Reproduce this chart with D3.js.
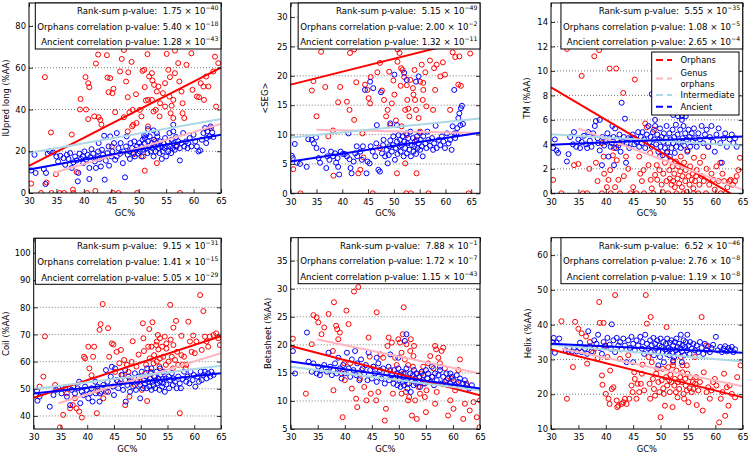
<!DOCTYPE html>
<html><head><meta charset="utf-8">
<script src="https://cdn.jsdelivr.net/npm/d3@7"></script>
<style>body{margin:0;background:#fff} svg{display:block} text{font-family:"DejaVu Sans",sans-serif;fill:#000}</style>
</head><body><svg id="c" width="751" height="455"></svg>
<script>
// ---------------- DATA ----------------
const gcTicks = [30,35,40,45,50,55,60,65];
const yLabels = ["IUpred long (%AA)", "<SEG>", "TM (%AA)", "Coil (%AA)", "Betasheet (%AA)", "Helix (%AA)"];
const xLabel = "GC%";
const yTicks1 = [0,20,40,60,80];
const yTicks2 = [0,5,10,15,20,25,30];
const yTicks3 = [0,2,4,6,8,10,12,14];
const yTicks4 = [40,50,60,70,80,90,100];
const yTicks5 = [5,10,15,20,25,30,35];
const yTicks6 = [10,20,30,40,50,60];
const legendLabels = ["Orphans", "Genus\norphans", "Intermediate", "Ancient"];

const rankMant = ["1.75","5.15","5.55","9.15","7.88","6.52"];
const rankExp  = ["-40","-49","-35","-31","-1","-46"];
const orphMant = ["5.40","2.00","1.08","1.41","1.72","2.76"];
const orphExp  = ["-18","-2","-5","-15","-7","-8"];
const ancMant  = ["1.28","1.32","2.65","5.05","1.15","1.19"];
const ancExp   = ["-43","-11","-4","-29","-43","-8"];

// regression fits: value at GC=30 and at GC=65
const fitOrph  = [[13.0,60.0],[18.5,26.2],[8.65,-0.6],[46.7,69.4],[19.8,11.0],[32.9,19.1]];
const fitInter = [[19.1,35.5],[9.5,12.6],[4.83,3.88],[49.9,58.5],[16.1,11.9],[34.2,29.4]];
const fitAnc   = [[11.2,27.9],[5.4,10.1],[3.96,4.64],[48.3,55.7],[17.05,12.2],[34.5,31.9]];
// genus orphans: start GC, value at start, value at GC=65
const fitGenus = [[34.4,9.6,33.1],[35,10.8,10.3],[35,5.3,0.3],[34.6,44.7,63.1],[34.8,21,14.9],[32,33.1,22.3]];

// scatter data [GC%, value]
const orph1 = [[32.9,55.5],[34,29],[30.4,4.5],[32.2,0],[34.1,0],[33.2,5],[34.9,9],[36.4,0],[38,1.6],[37.8,28],[38.7,10],[39.4,45],[39.3,40],[40.4,40],[40.3,55.5],[40.8,52.6],[41,50.7],[40.8,35.4],[41.9,36.7],[42.2,62],[42.6,66.3],[42.7,36.3],[43,35],[43.2,32.7],[44.3,55.3],[44.8,55],[44.2,66],[45.4,49.9],[45.2,47.8],[44.5,48.3],[45.7,38.7],[45.1,22.3],[46.3,0],[46.9,64.2],[46.6,58.2],[47.3,68.5],[47.7,53.4],[48,45.9],[48.1,57.8],[48.7,62.8],[48.3,38.6],[47.3,36.3],[48.9,39.8],[48,29.5],[48.8,31.9],[49,32.7],[49.6,33.5],[49.5,47.3],[49.1,18.6],[49.7,0],[50.7,58.5],[51,59],[50.5,36.7],[51.1,50.7],[51.3,44.3],[51.7,44.6],[51.6,66.5],[51.9,55.8],[52.4,57.4],[52.5,53.9],[52.8,51.8],[53.3,48.6],[53.6,51],[53.1,39.8],[53.8,36.7],[53,24.7],[53.3,14.3],[51.1,10.7],[54.8,52.6],[55.1,66.6],[55.4,59],[55.7,55.5],[55.6,46.2],[56,41.8],[56.3,44.6],[55.8,38.2],[56.3,35.9],[56.6,57.4],[56.6,68.2],[57.2,62.2],[57.4,53.4],[57.8,48.6],[58,43],[56.8,22.3],[57.5,0],[58.7,61.4],[59.6,66.9],[59.8,49.4],[60.6,46.2],[61,45.9],[61.3,52.6],[61.8,51],[61.9,44.6],[62.7,51],[62.3,55.8],[63.6,58.2],[63.9,65.3],[64.5,62.2],[64.1,41.4],[63.2,31.1],[58,38.2],[58.3,35.9],[52.7,39],[52.4,44.6],[53.9,43],[54.4,47.8],[54.8,41.4],[51.7,31.9],[50.2,39.8],[50.8,17.5],[35.6,0],[38.1,0],[40.6,0],[42.1,1],[45.3,0]];
const anc1 = [[30.4,10.8],[31.2,9.6],[31,18.3],[32.7,11.5],[33.1,9.6],[33,4.3],[33.4,18.8],[33.8,19.9],[34.4,19.4],[35,17.5],[35.3,15.1],[35.7,17.8],[36.3,16.7],[36.6,13.5],[36.9,18.3],[37.2,16.3],[37.5,19.1],[37.8,12],[38.1,14.7],[38.4,17.5],[38.7,15.6],[38.9,5.6],[39,9.6],[39.2,18.8],[39.5,16.3],[39.8,17.5],[39.9,14.3],[40.1,19.9],[40.4,15.9],[40.7,18.3],[41,12],[41,6.7],[41.2,17.2],[41.4,21],[41.7,18.8],[42,15.1],[42.2,12],[42.5,17.2],[42.6,19.9],[42.9,16.3],[43.1,12.7],[43.3,20.7],[43.5,18.3],[43.8,6.4],[44,15.5],[44.3,19.1],[44.5,22.3],[44.6,13.1],[45,17.5],[45.2,19.9],[45.5,23.9],[45.7,15.9],[46,17.5],[46.3,21.5],[46.6,18.8],[46.7,23.9],[47.1,14.3],[47.2,19.9],[47.5,7.5],[47.7,22.3],[48,18.3],[48.3,19.9],[48.4,16.3],[48.5,23.9],[48.8,21.5],[49,19.1],[49.2,24.7],[49.3,17.5],[49.5,20.7],[49.7,22.3],[49.9,18.8],[50.1,23.9],[50.2,19.9],[50.4,22.3],[50.5,17.5],[50.7,25.5],[50.8,20.7],[51,27.4],[51.1,26.3],[51.1,23.9],[51.3,21.5],[51.4,27.9],[51.6,19.1],[51.7,24.7],[51.9,22.3],[52,27.1],[52.2,19.9],[52.4,23.9],[52.5,21.5],[52.7,17.5],[52.8,25.5],[53,22.3],[53.1,19.9],[53.3,23.9],[53.4,27.1],[53.6,21.5],[53.8,19.1],[53.9,24.7],[54.1,22.3],[54.2,16.3],[54.4,19.9],[54.5,23.9],[54.7,21.5],[54.8,26.3],[55,17.5],[55.1,22.3],[55.3,24.7],[55.4,19.9],[55.6,28.7],[55.7,22.3],[55.9,19.1],[56,25.5],[56.2,21.5],[56.3,29.5],[56.4,23.9],[56.6,20.7],[56.8,26.8],[56.9,22.3],[57.2,24.7],[57.5,15.6],[57.5,21.5],[57.8,23.9],[58.1,28.7],[58.3,22.3],[58.6,24.7],[58.9,21.5],[59,23.9],[59.3,26.3],[59.6,22.3],[60,27.9],[60.3,24.7],[60.6,22.3],[60.9,19.9],[61.2,20.4],[61.5,25.5],[61.8,28.7],[62.1,31.1],[62.3,23.9],[62.5,29.5],[62.9,27.1],[63.1,31.9],[63.4,29],[63.6,26.8],[62.4,26.3],[52.7,30],[51.7,30.6],[56.3,32.7],[53.3,28.7],[47.8,27.1],[46,28.7],[44.8,27.1],[43.7,27.4],[42.7,23.9]];

const orph2 = [[30.5,4.1],[31.9,0],[35,13.1],[35.9,24.1],[34.1,17.5],[34.4,19.1],[36.7,18.1],[37.3,9.7],[38.2,10.7],[38.3,3],[39.2,15.5],[39.6,18.1],[40.9,15.6],[41.4,14.2],[41.5,23.9],[42.3,24.5],[42.3,12.5],[42.7,18.9],[43.5,4],[43.9,10.2],[44.1,6.1],[43.1,3.4],[44.4,18.5],[44.9,17.6],[45.1,16.2],[45.4,15.3],[45.5,19.8],[45.9,0],[46.8,20.6],[47.3,22.2],[47.7,17.5],[48.1,15.9],[48.5,13.1],[48.8,14.2],[49.1,20.7],[49.3,11.6],[49.6,15.3],[49.9,19.2],[50.1,16.8],[50.4,12.4],[50.7,24.5],[51.1,23.9],[51.4,21.3],[51.5,11.4],[51.7,21],[52,19.8],[52.2,5.1],[52.4,0],[52.5,18.4],[52.6,15.9],[52.8,14.4],[53,13.1],[53.3,0],[53.7,17.9],[53.8,16.8],[54,21],[54.1,15.9],[54.3,14.2],[54.4,3.4],[54.8,12.8],[55.1,19],[55.4,21.9],[55.6,15.9],[55.7,17.6],[56.1,20.6],[56.3,14.8],[56.7,0],[57,22.6],[57.6,14.2],[57.8,21.3],[58,17.6],[58.3,21.9],[59,19.9],[59.5,22.3],[60.9,14.2],[61.4,24],[61.9,23.2],[62.5,18.5],[62.7,23.3],[63,18.3],[64.5,0],[64.8,23.8],[50.7,22.4],[55.7,18.8],[53.2,19.3],[52.5,9.9],[51.3,18.3],[54.4,9.1],[47.3,7.7],[50.6,3.4],[59.9,20.2],[52.2,14.2],[55.1,10.5]];
const anc2 = [[30.2,6.4],[30.4,6],[30.8,8.4],[31.2,5.2],[31.8,5],[33.1,4.5],[33.4,9.2],[34.1,9.1],[34.5,8.5],[34.9,9.5],[35,7.7],[35.4,6],[35.7,5.2],[36.2,7.3],[36.9,4.3],[37.1,6.3],[37.5,5.7],[37.8,7.1],[38.2,6.3],[38.6,6.8],[38.8,5.2],[39.1,6],[39.2,4.5],[39.4,3.2],[39.7,7.1],[40.1,6.7],[40.5,6.7],[40.9,6.3],[41.2,10.2],[41.4,5.8],[41.6,4.3],[41.8,3.4],[42.2,5.4],[42.5,6.8],[42.8,8],[42.9,6.3],[43.5,7.1],[43.8,5.7],[44,8],[44.4,17.6],[44.7,3.4],[44.9,5.4],[45.3,5.1],[45.4,19],[45.5,8],[45.9,7.1],[46,17.9],[46.4,6.3],[46.6,8.5],[47,4],[47.3,3.7],[47.5,17.2],[47.7,6.8],[47.9,8.2],[48,9.1],[48.3,6.3],[48.6,7.4],[48.8,5.1],[49,6.5],[49.1,8],[49.3,9],[49.6,7.1],[49.8,8.2],[49.9,9.7],[50.1,20.2],[50.2,5.7],[50.4,7.7],[50.6,8.8],[50.7,6.7],[50.9,9.9],[51.1,8],[51.2,9.1],[51.3,7.1],[51.5,8.2],[51.7,9.7],[51.9,6.3],[52,8.8],[52.2,7.7],[52.4,10.2],[52.5,6.8],[52.6,8.5],[52.8,9.4],[53,7.4],[53.2,10.5],[53.3,6.3],[53.5,8.2],[53.7,9.4],[53.8,7.1],[54,8],[54.1,8.8],[54.3,6.7],[54.5,9.7],[54.6,7.7],[54.8,8.5],[55,10.3],[55.1,7.4],[55.2,9.1],[55.4,8],[55.6,6.3],[55.7,9.7],[56.1,8.5],[56.3,7.7],[56.5,10.5],[56.7,9.1],[57,8.1],[57.4,9.4],[57.6,7.4],[57.8,8.5],[58.1,11.5],[58.3,7.7],[58.7,9.1],[59,8.2],[59.3,9.7],[59.6,8.8],[59.9,7.7],[60.3,10.2],[60.6,8.5],[60.9,9.1],[61.2,7.4],[61.4,11.4],[61.7,17.6],[61.9,9.4],[62.1,10.2],[62.3,11.1],[62.5,12.8],[62.7,13.6],[63,14.5],[63.2,14.9],[62.9,11.6],[63.4,11.8],[61.7,10.2],[52,20.5],[52.5,19.3],[54.3,19],[54.8,19.9],[50.6,11.6],[49.3,11.9],[46.7,11.6]];

const orph3 = [[30.4,1.1],[31.9,0],[32.9,11.8],[34.2,2.3],[35,2.4],[35.6,9.6],[35.8,0],[36.6,0],[37,2],[37.9,11.2],[38.2,2.5],[38.5,1],[38.8,11.7],[39.3,4.1],[39.3,0],[39.6,3],[39.7,1.6],[40.2,0.5],[40.5,1.1],[40.7,10.2],[40.8,1.9],[40.9,0],[41.3,3.1],[41.5,3.7],[41.7,0.5],[41.9,10.2],[42,2.7],[42.3,1.1],[42.5,4.1],[42.6,0],[43.2,8.2],[43.3,1.4],[43.7,3],[44.1,2],[44.5,0],[45,0.5],[45.3,9.3],[45.6,0],[46.1,3],[46.3,1.6],[46.6,1],[46.9,1.9],[47,0],[47.2,5.7],[47.5,5.4],[47.8,2.3],[48.1,3.3],[48.2,1.1],[48.4,0.4],[48.7,0],[48.8,5.2],[49,1.5],[49.3,2.3],[49.4,1.1],[49.8,1.9],[49.9,3],[50.2,0.7],[50.4,0.1],[50.5,1.6],[50.8,2.5],[51.1,1],[51.2,3.3],[51.4,0],[51.6,1.9],[51.7,1.2],[51.8,2.7],[52,0.7],[52.2,2.2],[52.3,1],[52.5,1.6],[52.6,0.5],[52.8,2.6],[52.9,0],[53.1,1.2],[53.2,2.2],[53.4,0.8],[53.6,1.8],[53.7,3],[53.9,0.5],[54,1.4],[54.2,0],[54.3,2.5],[54.5,1],[54.6,1.9],[54.8,0.1],[54.9,3.5],[55.1,1.4],[55.3,0.7],[55.4,2.2],[55.7,1.1],[55.9,1.6],[56,0.4],[56.1,2.9],[56.3,1],[56.5,1.4],[56.6,1.9],[56.9,0],[57.1,0.7],[57.2,2.5],[57.5,1.4],[57.8,3],[57.9,1],[58.3,0],[58.4,2],[58.7,3.8],[58.9,0.7],[59.3,1.6],[59.6,1.1],[59.9,0.3],[60.2,2.2],[60.6,1],[60.9,2.5],[61,0],[61.3,1.6],[61.6,1],[61.9,0],[62.2,0.5],[62.6,1],[62.8,1.1],[63.2,0.7],[63.6,1],[63.9,1.4],[64.2,1.9],[64.5,2.9],[56,0]];
const anc3 = [[30.4,3.7],[30.7,4.4],[31,3.5],[31.3,3.3],[32.9,2.6],[33.2,3.2],[33.5,4.6],[34,4],[34.2,5],[34.6,3.8],[35,4.4],[35.3,3.7],[35.6,4.2],[36,4.7],[36.4,4],[36.6,3.7],[36.8,5],[37.1,4.3],[37.4,3.8],[37.7,4.9],[38,5.5],[38.2,5.9],[38.5,4.5],[38.6,4.1],[38.9,3.5],[39.3,2.3],[39.4,4.6],[39.7,3.9],[40,4.2],[40.3,4.9],[40.5,3],[40.7,4.5],[40.9,3.8],[41.1,4.1],[41.4,4.6],[41.5,2.3],[41.7,5.3],[41.9,3.7],[42.1,4.4],[42.3,3.9],[42.5,4.8],[42.7,3.4],[42.9,7.4],[43.1,4.2],[43.3,4.6],[43.5,6.1],[43.7,2.5],[43.8,4.1],[44.1,4.5],[44.3,3.7],[44.5,4.4],[44.9,4.8],[45.2,4],[45.3,4.5],[45.6,4.2],[45.9,5],[46.1,3.8],[46.4,4.6],[46.6,4.1],[46.7,5],[47,4.4],[47.2,3.7],[47.5,4.8],[47.8,5.5],[48,4.2],[48.2,4.6],[48.4,3.8],[48.6,5],[48.8,4.4],[49,5.5],[49.2,4],[49.4,4.8],[49.6,3.4],[49.8,4.4],[49.9,5.3],[50,3.8],[50.2,4.6],[50.4,3.1],[50.5,4.2],[50.6,4.9],[50.8,3.7],[51,4.5],[51.1,5.5],[51.2,3.4],[51.4,4.1],[51.6,4.9],[51.7,3],[51.8,4.4],[52,3.7],[52.2,5.2],[52.3,4.1],[52.5,4.6],[52.6,3.3],[52.8,5.6],[52.9,3.8],[53.1,4.8],[53.2,6.3],[53.4,4.2],[53.6,5.2],[53.7,3.7],[53.9,6],[54,4.5],[54.2,5.5],[54.3,3.9],[54.5,4.9],[54.6,6.3],[54.8,4.4],[54.9,3.4],[55.1,5.2],[55.3,4.6],[55.4,3.8],[55.7,4.9],[55.9,4.2],[56.1,5.3],[56.3,4.5],[56.6,3.8],[56.9,4.9],[57.2,4.4],[57.5,5.5],[57.8,4.1],[58.1,4.8],[58.4,5.2],[58.7,3.8],[59,4.6],[59.3,5.5],[59.6,4.2],[59.9,3.4],[60.2,4.8],[60.6,5.3],[60.9,4.1],[61.2,2.5],[61.5,4.5],[61.8,4.9],[62.1,3.8],[62.6,4.4],[63,4.8],[63.3,4.1],[63.6,4.5],[63.9,3.8],[53.6,8.2],[48.4,8.1],[38.9,6],[41.2,5.5],[49,6],[52.3,6.4],[53.9,6.3],[54.8,6.6]];

const orph4 = [[32.1,69.3],[31.8,54.5],[31.1,50.8],[34,51.4],[34.9,35.8],[35.5,40.4],[36.2,48.3],[36.8,42.8],[37.3,44],[37.7,46.5],[38,42.8],[38.5,41.6],[39,39.4],[39.4,61.8],[39.6,61.2],[40.2,65.5],[41.3,65.5],[40.4,57.5],[40.8,55],[41.1,61.8],[41.8,41],[41.9,49.2],[42.3,71.7],[42.5,73.8],[42.9,81.2],[43,46.5],[43.5,48.9],[43.9,72.3],[44.1,61.8],[44.6,66.7],[44.9,66.3],[45.2,56.2],[45.5,63.6],[45.7,52.6],[46,59.4],[46.3,64.3],[46.6,55.1],[46.9,60.6],[47.1,44],[47.4,58.8],[47.7,56.2],[47.9,47.1],[48.1,53.8],[48.3,59.9],[48.5,67.5],[48.9,51.4],[49.2,58.2],[49.6,62.6],[49.9,52.6],[50.2,49.6],[50.4,74.1],[50.5,68.6],[50.6,63.9],[50.8,55.6],[51,58.9],[51.2,45.5],[51.4,65.5],[51.6,72],[51.7,61.2],[51.9,56.2],[52,65.5],[52.2,74.5],[52.4,59.4],[52.5,62.4],[52.7,54.5],[52.9,66.1],[53,60],[53.2,69.8],[53.3,64.5],[53.5,58.2],[53.6,61.2],[54,65.5],[54.1,56.2],[54.2,61.8],[54.5,69.2],[54.7,58.8],[54.8,64.8],[55.2,60],[55.5,80.9],[55.6,68.1],[55.8,61.8],[56,57.5],[56.1,66.1],[56.4,60.6],[56.6,75],[56.8,63.6],[57,58.8],[57.3,41],[57.6,69.5],[57.8,58.8],[58.1,61.8],[58.4,57.5],[58.9,74.7],[59.2,67.4],[59.5,63.6],[59.8,69.6],[60.1,63.1],[60.4,67.4],[61.1,84.5],[61.4,64.3],[61.7,78.6],[62,69.2],[62.3,67.4],[62.6,65.5],[62.9,69.2],[63.6,69.8],[64.1,70.4],[64.5,68.6],[64.8,66.1],[58.5,58.8],[57.6,62.4],[54.8,66.7],[53.6,68.6],[53,67.4],[56.1,72.5]];
const anc4 = [[30.6,49.3],[30.7,45.6],[31.1,47.1],[33,43.4],[33.7,47.7],[34.2,49.6],[34.6,50.2],[35.2,48.3],[35.9,50.2],[36.2,47.1],[36.8,44],[37.1,49.6],[37.4,50.8],[37.7,48.3],[38.2,50.2],[38.5,52.6],[38.7,44.7],[39,48.9],[39.3,47.7],[39.6,50.8],[39.9,49.6],[40.2,46.5],[40.5,48.3],[40.8,50.2],[41,45.3],[41.5,52.6],[41.6,48.3],[41.9,50.8],[42.3,45.3],[42.7,48.9],[43,51.4],[43.5,56.9],[43.8,52.6],[43.9,48.9],[44.4,54.5],[44.8,50.8],[45,47.7],[45.2,57.5],[45.5,53.2],[45.8,50.2],[46.1,52],[46.4,55.1],[46.7,49.6],[47.1,53.2],[47.2,45.3],[47.5,51.4],[47.7,54.5],[48,48.9],[48.3,52.6],[48.6,50.8],[48.9,55.7],[49.1,49.6],[49.4,52.6],[49.6,54.5],[49.9,51.4],[50.2,56.3],[50.4,50.2],[50.6,53.2],[50.8,52],[51,54.5],[51.1,50.2],[51.2,57.5],[51.4,52.6],[51.6,50.8],[51.7,53.8],[51.9,55.7],[52,49.6],[52.2,52.6],[52.4,51.4],[52.5,54.5],[52.7,50.2],[52.9,53.2],[53,56.3],[53.1,52],[53.3,53.8],[53.5,49.6],[53.6,52.6],[53.7,55.1],[54,50.8],[54.1,53.6],[54.2,52],[54.4,56.3],[54.5,48.9],[54.7,53.8],[54.8,51.6],[55.2,54.5],[55.3,50.2],[55.5,53.2],[55.8,55.7],[56,51.4],[56.1,53.8],[56.4,52.6],[56.7,50.2],[57,54.5],[57.3,52],[57.5,50.2],[57.8,53.6],[58.1,56.3],[58.5,52.6],[58.7,54.5],[59.1,52],[59.3,56.3],[59.7,53.2],[59.9,55.1],[60.2,50.8],[60.6,54.5],[60.9,52.6],[61.2,56.3],[61.4,53.2],[61.7,55.1],[62,56.3],[62.3,53.8],[62.6,55.7],[63,54.5],[63.2,56.3],[63.6,55.1],[49.9,46.5],[52,57.5],[53.6,57.5],[47.1,56.9],[44.6,58.1],[42.4,48.3]];

const orph5 = [[30.4,21.1],[32.8,11.3],[34.2,25.3],[34.8,24.9],[35.1,24],[33.9,20.1],[35.7,21.9],[36.2,23.1],[37,25.5],[37.8,18.9],[37.9,11.9],[38,27.6],[38.4,23.4],[38.6,22.8],[38.8,21],[39.1,22.2],[39.4,14.9],[39.6,7.1],[39.9,16.7],[40,13.7],[40.3,26.1],[40.7,23.7],[41,16.7],[41.3,12.2],[41.7,29.5],[42.1,10.4],[42.3,8.9],[42.5,30.3],[42.8,14],[43.1,15.5],[43.6,12.5],[44,10.1],[44.4,21.3],[44.6,17.9],[44.8,11.3],[45.3,16.1],[45.8,10.1],[45.9,25.8],[46.2,11.6],[46.6,18.3],[47.1,17.7],[47.4,6.5],[47.6,8.6],[47.9,19.8],[48.1,21.3],[48.4,15.5],[48.7,20.4],[48.9,11.3],[49,14],[49.3,17.7],[49.6,16.4],[49.9,21],[50.2,20.4],[50.5,18.6],[50.7,21.9],[50.8,14.9],[50.9,26.7],[51.1,17.4],[51.3,11.6],[51.4,20.1],[51.6,13.1],[51.7,10.1],[51.9,10.7],[52.1,18.9],[52.2,21],[52.4,7.4],[52.6,16.1],[52.7,18],[52.8,19.8],[53,10.1],[53.2,14.9],[53.3,6.8],[53.6,12.5],[53.9,11.3],[54.2,14.9],[54.5,13.1],[54.8,10.7],[55,8],[55.1,11.9],[55.4,16.7],[55.8,18],[56.1,14.3],[56.4,15.8],[56.7,9.5],[56.9,19.2],[57,11.6],[57.3,17.7],[57.6,16.7],[57.9,18.9],[58.2,19.5],[58.5,15.8],[58.8,13.7],[59.1,7.4],[59.5,10.1],[59.8,14],[60.1,8.6],[60.4,11.9],[60.7,13.1],[61,15.5],[61.3,17.4],[61.9,6.8],[62.2,9.5],[62.5,13.1],[63.1,8.3],[63.8,9.8],[64.4,7.1],[64.9,5.3],[65,10.1],[56.7,19.8],[54.5,16.1],[51.7,16.4],[50.5,11.3]];
const anc5 = [[30.4,18.9],[30.8,14.9],[33,22.2],[33.3,17],[33.9,15.2],[34.2,16.7],[34.8,14.9],[35.1,16.1],[35.4,14.6],[35.7,15.5],[36.2,16.4],[36.7,15.2],[37,18.6],[37.3,16.1],[37.6,14.6],[37.9,15.5],[38.2,16.7],[38.5,14.9],[38.8,17.7],[39.1,15.8],[39.4,14],[39.7,16.4],[40,14.9],[40.4,18.6],[40.7,15.8],[41,14.3],[41.3,17.4],[41.6,15.5],[41.9,18.9],[42.1,14.6],[42.3,16.7],[42.7,13.7],[43,17.4],[43.3,15.8],[43.6,14.9],[43.9,16.4],[44.2,13.7],[44.4,18.6],[44.7,15.5],[45,14],[45.3,16.1],[45.6,14.9],[45.9,13.4],[46.2,16.7],[46.5,15.5],[46.8,14],[47.1,15.8],[47.4,13.1],[47.7,14.9],[48.1,16.1],[48.2,13.7],[48.4,18.3],[48.7,14.6],[49,13.1],[49.1,15.5],[49.3,14],[49.6,14.9],[49.7,12.8],[49.9,15.8],[50.1,13.7],[50.2,14.6],[50.3,12.5],[50.5,15.2],[50.7,13.4],[50.8,14.3],[50.9,12.8],[51.1,14.9],[51.3,13.7],[51.4,15.8],[51.6,12.2],[51.7,14],[51.9,13.1],[52.1,14.9],[52.2,11.6],[52.4,13.7],[52.6,14.6],[52.7,12.8],[52.8,15.5],[53,14],[53.2,13.1],[53.3,14.9],[53.6,13.4],[53.8,14.3],[53.9,12.5],[54.2,15.2],[54.4,13.7],[54.5,14.6],[54.8,13.1],[55,15.5],[55.3,14],[55.4,14.9],[55.8,13.4],[56.1,16.1],[56.2,14.3],[56.5,12.8],[56.7,14.9],[57,13.7],[57.3,14.6],[57.6,15.5],[57.9,13.1],[58.2,14.3],[58.5,13.4],[58.8,14.9],[59.1,14],[59.5,13.1],[59.8,14.3],[60.1,13.7],[60.4,12.8],[60.7,14.6],[61,13.4],[61.3,14],[61.9,13.1],[62.2,13.7],[62.5,12.8],[63,12.2],[63.5,12.8],[51.4,21.9],[51.1,20.7],[49.9,17.7],[57.6,16.1],[59.5,14.9],[45.9,17.7]];

const orph6 = [[30.4,34.8],[31.9,41],[32.9,18.7],[34,27.8],[34.4,40.8],[35,38.8],[35.2,33.3],[35.6,37.5],[36.4,36.6],[36.6,28.8],[37.1,35],[37.7,32.1],[38,33.1],[38.5,30.2],[38.8,46.5],[38.9,40.5],[39.3,25.4],[39.4,22.7],[39.6,40.5],[39.9,34],[40,20.1],[40.3,30.7],[40.5,18.7],[40.7,17.2],[40.8,26.8],[41.1,21.5],[41.4,22],[41.7,48.5],[42,18.2],[42.1,16.3],[42.3,16.7],[42.6,30.2],[42.9,17.2],[43.2,17.7],[43.5,18.7],[43.8,17.2],[44.1,31.2],[44.3,18.7],[44.7,22.5],[44.9,20.6],[45.2,26.3],[45.3,24.4],[45.6,18.7],[45.8,23],[46.1,20.6],[46.4,23],[46.6,25.9],[46.7,28.5],[47,21.1],[47.3,48.5],[47.5,40.3],[47.8,30.7],[48,23],[48.1,18.7],[48.2,42.2],[48.4,29.2],[48.6,24.4],[48.8,21.5],[49,19.6],[49.2,25.9],[49.4,27.3],[49.6,23.5],[49.8,20.6],[50,13.4],[50.2,24],[50.4,27.3],[50.5,21.7],[50.6,20.1],[50.8,16.7],[51,24.9],[51.1,39.3],[51.2,22.5],[51.4,27.8],[51.6,24],[51.7,20.6],[51.8,25.6],[52,23.5],[52.2,16.3],[52.3,29.2],[52.5,22.5],[52.6,24.4],[52.8,20.6],[52.9,26.8],[53.1,19.1],[53.2,23.5],[53.4,21.5],[53.6,24.9],[53.7,30.7],[53.9,23.5],[54,26.3],[54.2,20.1],[54.3,18.7],[54.5,24.4],[54.6,22.5],[54.8,21.1],[54.9,25.9],[55.1,17.7],[55.3,21.7],[55.4,24.9],[55.7,20.6],[55.9,23.5],[56,21.5],[56.3,23],[56.5,24.9],[56.6,16.9],[56.9,21.1],[57.2,23.5],[57.5,42.2],[57.7,15.3],[57.9,26.3],[58.3,34],[58.4,20.6],[58.7,22],[59,18.7],[59.3,21.1],[59.6,23.5],[59.9,24.4],[60.2,22.5],[60.7,11.9],[61,18.7],[61.3,20.6],[61.6,25.9],[61.8,13.8],[62.1,22],[62.4,16.7],[62.6,22.5],[63,20.1],[63.6,19.1],[64,24.9],[64.6,28.3],[56.3,30.7],[54.8,28.3],[52.3,28.3],[54,28.3]];
const anc6 = [[30.3,34.8],[30.5,36.2],[31,34.8],[31.5,36],[30.7,31.9],[32.7,32.6],[33.2,32.1],[33.8,32.3],[34.2,33.1],[34.7,32.3],[35.3,34.8],[35.6,32.1],[36.2,33.1],[36.6,31.6],[36.8,38.1],[37.1,33.8],[37.4,32.3],[37.9,35.5],[38.3,34.5],[38.6,37.1],[38.9,33.3],[39.3,31.6],[39.6,35],[39.9,33.8],[40.3,36.2],[40.7,34.2],[40.9,33.1],[41.1,40.1],[41.4,35.5],[41.7,32.1],[42,36.2],[42.3,34],[42.6,35],[42.9,32.9],[43.2,36],[43.5,34],[43.8,29.2],[44.1,35.5],[44.4,33.3],[44.7,36.5],[45,34.5],[45.3,32.6],[45.6,35.5],[45.9,34],[46.3,36.5],[46.6,33.1],[46.7,35],[47,31.6],[47.2,37.1],[47.5,34.5],[47.8,33.1],[48.1,35.5],[48.2,32.1],[48.4,34],[48.7,36.2],[48.8,31.2],[49,34.5],[49.2,33.1],[49.4,35.5],[49.6,32.3],[49.8,34],[49.9,30.7],[50,36],[50.2,33.6],[50.4,32.1],[50.5,35],[50.6,29.2],[50.8,32.9],[51,34.5],[51.1,31.6],[51.2,36],[51.4,33.3],[51.6,31.2],[51.7,34.8],[51.8,32.9],[52,35.5],[52.2,32.1],[52.3,34],[52.5,30.7],[52.6,35],[52.8,32.6],[52.9,36],[53.1,33.6],[53.2,31.6],[53.4,34.5],[53.6,33.1],[53.7,37.1],[53.9,32.3],[54,34],[54.2,35.5],[54.3,31.2],[54.5,33.6],[54.6,35],[54.8,32.6],[54.9,37.1],[55.1,34],[55.3,31.6],[55.4,35],[55.7,33.1],[56,34.5],[56.3,32.6],[56.6,34],[56.9,32.1],[57.2,35],[57.5,33.3],[57.8,31.6],[58.1,34.5],[58.4,32.6],[58.7,33.8],[59,32.1],[59.3,33.3],[59.6,34.2],[60.1,36.5],[60.4,32.6],[60.9,33.6],[61.2,32.1],[61.5,33.1],[61.8,33.8],[62.1,32.3],[62.4,33.3],[62.7,32.6],[63,33.6],[63.3,32.1],[63.6,32.9],[45,29.2],[49.6,28.3],[52.3,29.7],[53.9,29.2]];

// ---------------- RENDER ----------------
const orphans = [orph1,orph2,orph3,orph4,orph5,orph6];
const ancient = [anc1,anc2,anc3,anc4,anc5,anc6];
const yTicks = [yTicks1,yTicks2,yTicks3,yTicks4,yTicks5,yTicks6];
const pvals = [0,1,2,3,4,5].map(i=>[
  ["Rank-sum p-value:  ", rankMant[i], rankExp[i]],
  ["Orphans correlation p-value: ", orphMant[i], orphExp[i]],
  ["Ancient correlation p-value: ", ancMant[i], ancExp[i]]]);

const layout = [
  {l:29,   r:221,   t:3,     b:193,   xmax:65,   ymin:0,    ymax:91,    lx:6},
  {l:290.7,r:480,   t:3,     b:193.3, xmax:66.7, ymin:0,    ymax:32.4,  lx:265},
  {l:551,  r:742.7, t:3,     b:193.3, xmax:65,   ymin:0,    ymax:15.55, lx:527},
  {l:33.7, r:221,   t:238.3, b:429,   xmax:65,   ymin:35.2, ymax:105.4, lx:6},
  {l:290.7,r:480,   t:237.7, b:429,   xmax:65,   ymin:5,    ymax:39.1,  lx:268},
  {l:551,  r:742.7, t:237.7, b:429,   xmax:65,   ymin:10,   ymax:65,    lx:528}
];
const RED="#ff0000", BLUE="#0000ff", PINK="#ffb6c1", LBLUE="#add8e6";
const FS = 8.4;
const svg = d3.select("#c");
const defs = svg.append("defs");

layout.forEach((L,i)=>{
  const x = d3.scaleLinear().domain([30, L.xmax]).range([L.l, L.r]);
  const y = d3.scaleLinear().domain([L.ymin, L.ymax]).range([L.b, L.t]);
  const g = svg.append("g");
  defs.append("clipPath").attr("id","clip"+i).append("rect")
    .attr("x",L.l).attr("y",L.t).attr("width",L.r-L.l).attr("height",L.b-L.t);
  const inner = g.append("g").attr("clip-path",`url(#clip${i})`);
  // grid
  inner.selectAll(".grid").data(yTicks[i].filter(v=>v>L.ymin && v<L.ymax)).join("line")
    .attr("x1",L.l).attr("x2",L.r).attr("y1",d=>y(d)).attr("y2",d=>y(d))
    .attr("stroke","#444").attr("stroke-width",0.7).attr("stroke-dasharray","1,2");
  // scatter
  inner.append("g").selectAll("circle").data(orphans[i]).join("circle")
    .attr("cx",d=>x(d[0])).attr("cy",d=>y(d[1])).attr("r",2.5)
    .attr("fill","none").attr("stroke",RED).attr("stroke-width",1);
  inner.append("g").selectAll("circle").data(ancient[i]).join("circle")
    .attr("cx",d=>x(d[0])).attr("cy",d=>y(d[1])).attr("r",2.5)
    .attr("fill","none").attr("stroke",BLUE).attr("stroke-width",1);
  // regression lines
  const lin = (x0,y0,x1,y1)=>{const s=(y1-y0)/(x1-x0); return [[x0,y0],[L.xmax, y0+s*(L.xmax-x0)]];};
  const lines = [
    {pts: lin(30,fitOrph[i][0],65,fitOrph[i][1]), c:RED},
    {pts: lin(fitGenus[i][0],fitGenus[i][1],65,fitGenus[i][2]), c:PINK},
    {pts: lin(30,fitInter[i][0],65,fitInter[i][1]), c:LBLUE},
    {pts: lin(30,fitAnc[i][0],65,fitAnc[i][1]), c:BLUE}
  ];
  const lg = d3.line().x(d=>x(d[0])).y(d=>y(d[1]));
  inner.selectAll(".rl").data(lines).join("path")
    .attr("d",d=>lg(d.pts)).attr("stroke",d=>d.c).attr("stroke-width",2).attr("fill","none");
  // frame
  g.append("rect").attr("x",L.l).attr("y",L.t).attr("width",L.r-L.l).attr("height",L.b-L.t)
    .attr("fill","none").attr("stroke","#000").attr("stroke-width",1);
  // axes
  const ax = (gen, tx, ty, labels)=>{
    const a = g.append("g").attr("transform",`translate(${tx},${ty})`).call(gen);
    a.select(".domain").remove();
    a.selectAll("line").attr("stroke","#000").attr("stroke-width",0.8);
    a.selectAll("text").style("font-size",FS+"px").style("font-family","DejaVu Sans");
    if(!labels) a.selectAll("text").remove();
    return a;
  };
  ax(d3.axisBottom(x).tickValues(gcTicks).tickSize(-4).tickPadding(5.5).tickFormat(d3.format("d")),0,L.b,true);
  ax(d3.axisTop(x).tickValues(gcTicks).tickSize(-4),0,L.t,false);
  ax(d3.axisLeft(y).tickValues(yTicks[i]).tickSize(-4).tickPadding(3).tickFormat(d3.format("d")),L.l,0,true);
  ax(d3.axisRight(y).tickValues(yTicks[i]).tickSize(-4),L.r,0,false);
  // labels
  g.append("text").attr("x",(L.l+L.r)/2).attr("y",L.b+22.5).attr("text-anchor","middle")
    .style("font-size",FS+"px").text(xLabel);
  g.append("text").attr("transform",`translate(${L.lx},${(L.t+L.b)/2}) rotate(-90)`)
    .attr("text-anchor","middle").attr("dominant-baseline","central")
    .style("font-size",FS+"px").text(yLabels[i]);
  // p-value box
  const box = g.append("g");
  const rect = box.append("rect");
  let maxW = 0;
  pvals[i].forEach((r,k)=>{
    const t = box.append("text").attr("x",L.r-2.5).attr("y",L.t+10.8+k*15.8)
      .attr("text-anchor","end").style("font-size","8.6px").style("white-space","pre");
    t.append("tspan").text(r[0]+r[1]+" \u00d7 10");
    t.append("tspan").attr("dy",-4).style("font-size","6.2px").text(r[2].replace("-","\u2212"));
    maxW = Math.max(maxW, t.node().getComputedTextLength());
  });
  rect.attr("x",L.r-2.5-maxW-2).attr("y",L.t).attr("width",maxW+4.5).attr("height",46)
    .attr("fill","#fff").attr("stroke","#000").attr("stroke-width",1);
});

// legend (third panel)
const leg = svg.append("g");
leg.append("rect").attr("x",651.7).attr("y",52).attr("width",87.3).attr("height",63)
  .attr("fill","#fff").attr("stroke","#000").attr("stroke-width",1);
const legColors = [RED,PINK,LBLUE,BLUE];
const legY = [60,78.5,95,106.7];
legendLabels.forEach((lab,k)=>{
  leg.append("line").attr("x1",656).attr("x2",672).attr("y1",legY[k]).attr("y2",legY[k])
    .attr("stroke",legColors[k]).attr("stroke-width",2).attr("stroke-dasharray","7,4");
  const parts = lab.split("\n");
  const t = leg.append("text").attr("x",680.5).attr("y",legY[k]-(parts.length-1)*5.4)
    .attr("dominant-baseline","central").style("font-size",FS+"px");
  parts.forEach((p,j)=>t.append("tspan").attr("x",680.5).attr("dy",j?10.8:0).text(p));
});
</script></body></html>
